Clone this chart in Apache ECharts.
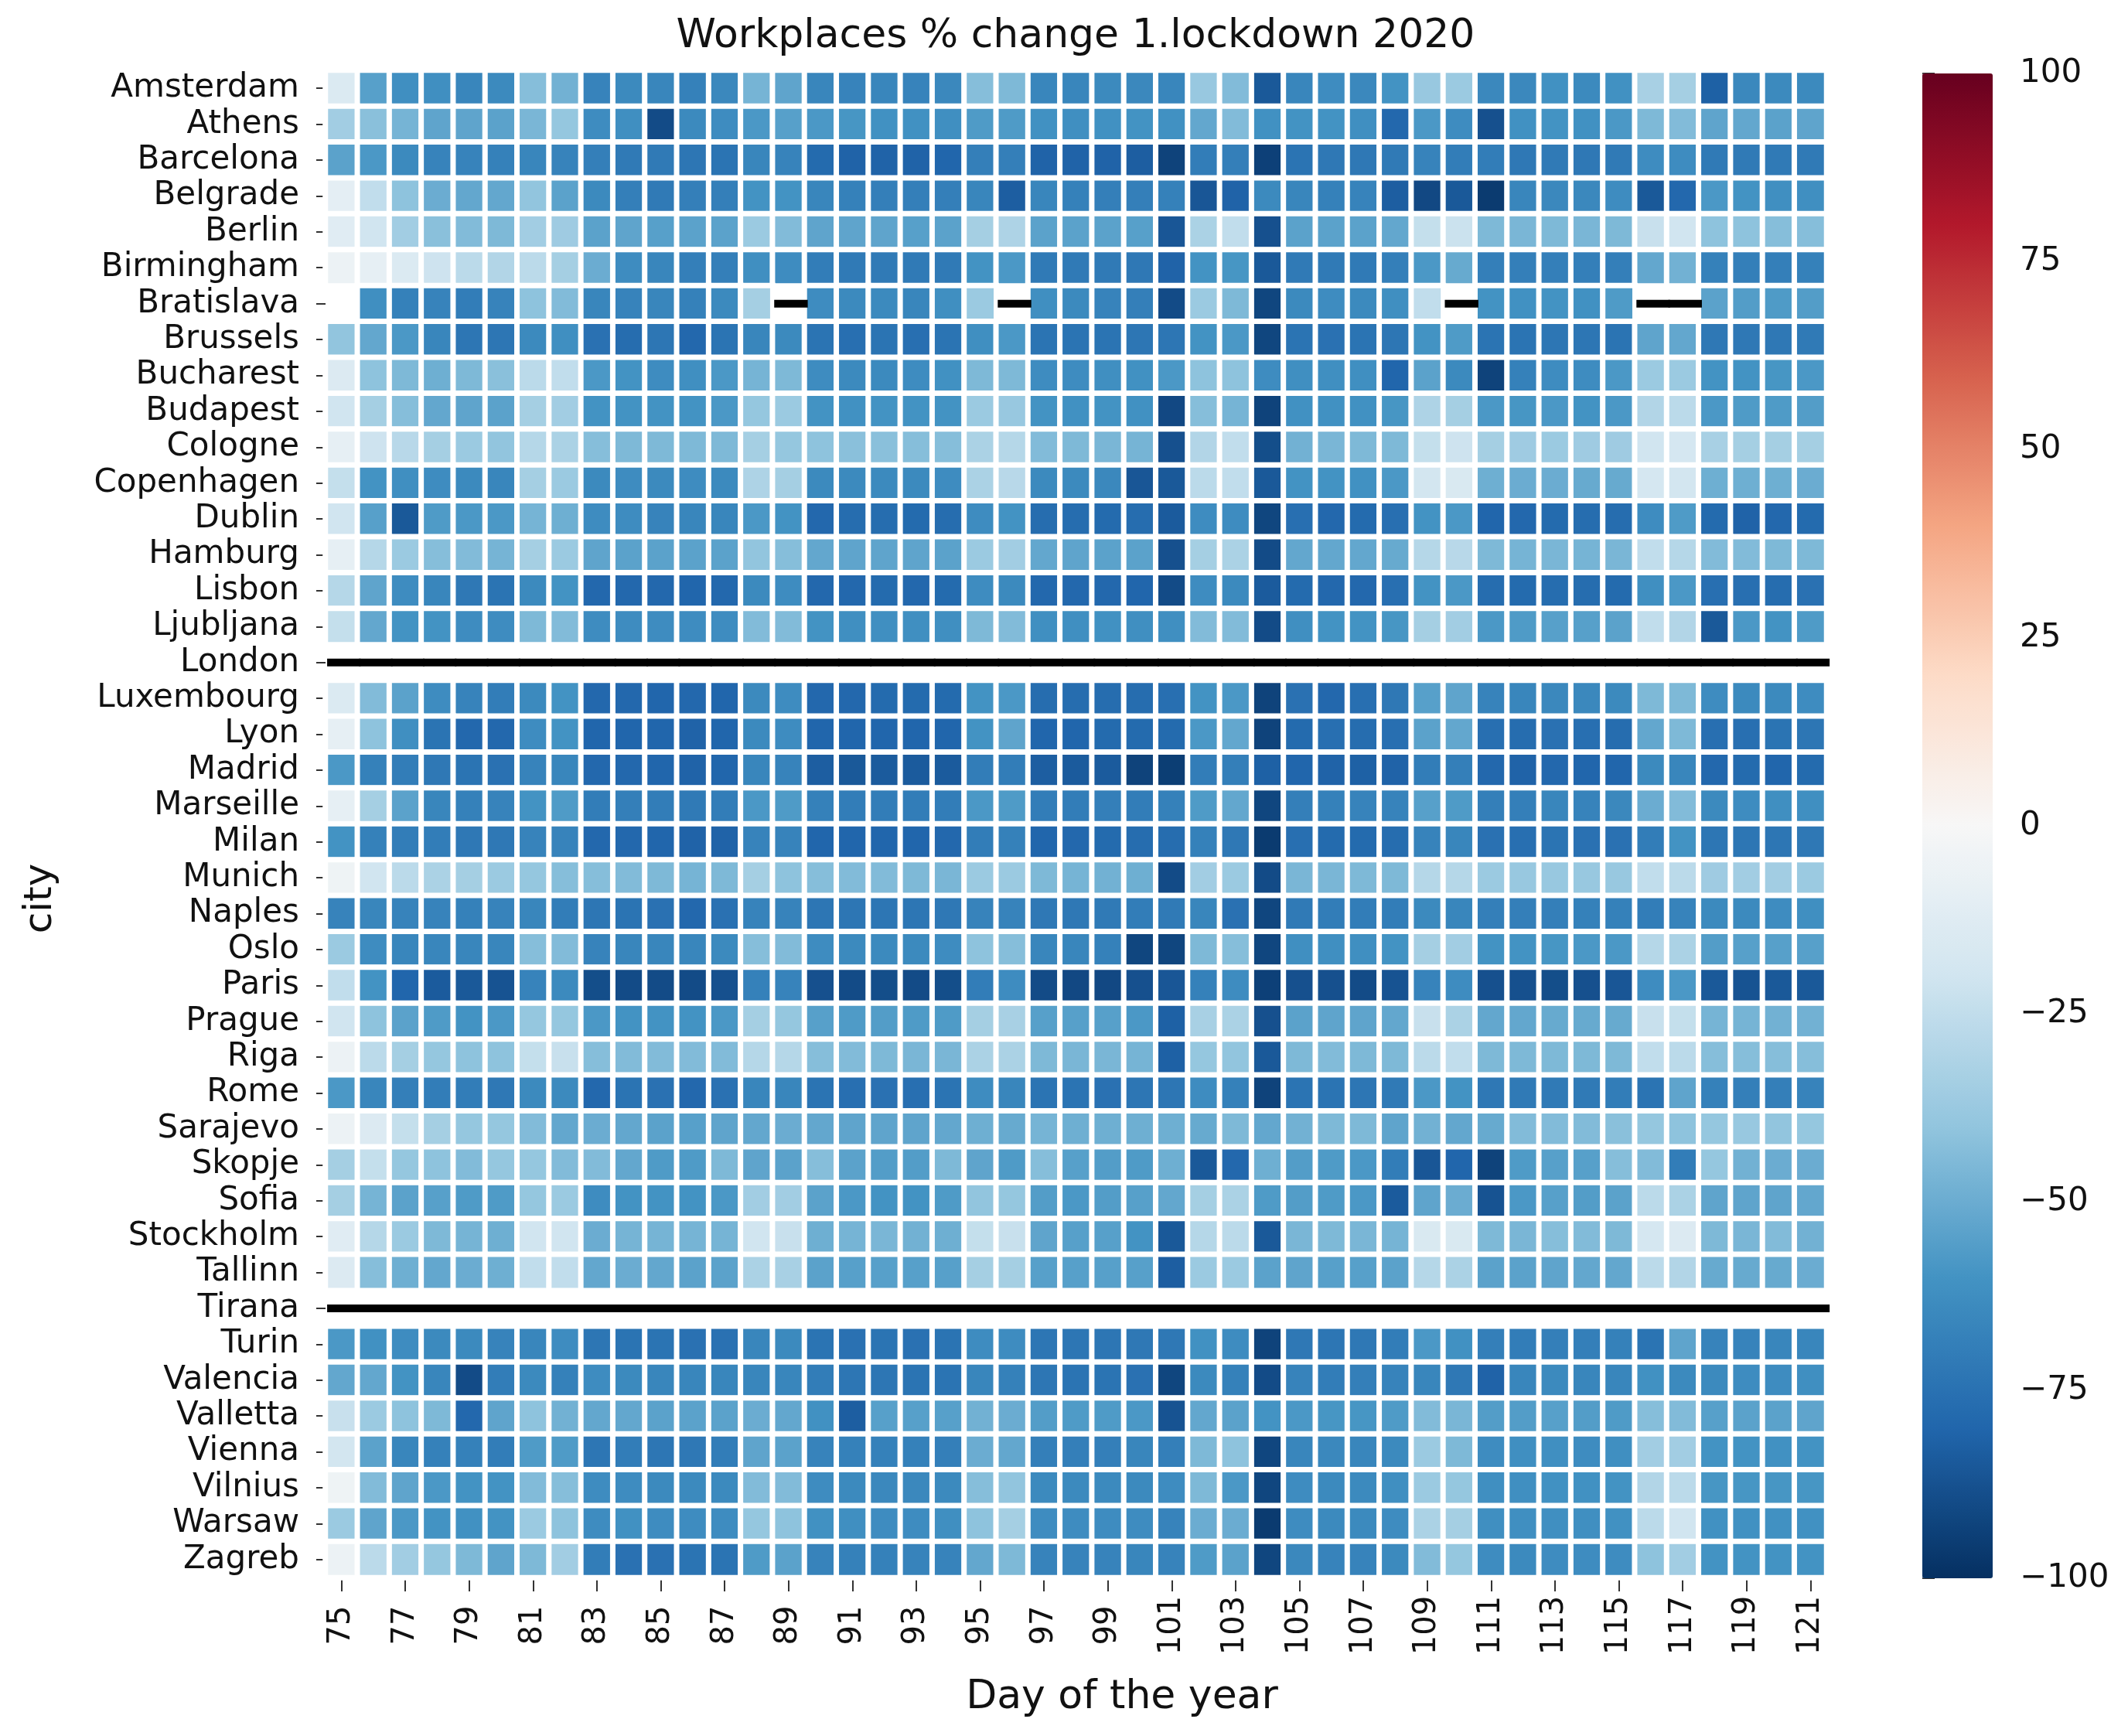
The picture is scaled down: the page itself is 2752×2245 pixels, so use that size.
<!DOCTYPE html>
<html>
<head>
<meta charset="utf-8">
<title>Workplaces % change 1.lockdown 2020</title>
<script src="https://cdn.jsdelivr.net/npm/echarts@6/dist/echarts.min.js"></script>
<style>
  html, body { margin: 0; padding: 0; background: #fff; }
  #chart { width: 2752px; height: 2245px; }
</style>
</head>
<body>
<div id="chart"></div>
<script>
// day of the year (x categories)
const days = [75, 76, 77, 78, 79, 80, 81, 82, 83, 84, 85, 86, 87, 88, 89, 90, 91, 92, 93, 94, 95, 96, 97, 98,
  99, 100, 101, 102, 103, 104, 105, 106, 107, 108, 109, 110, 111, 112, 113, 114, 115, 116, 117, 118, 119, 120, 121];

const cities = ['Amsterdam', 'Athens', 'Barcelona', 'Belgrade', 'Berlin', 'Birmingham', 'Bratislava', 'Brussels',
  'Bucharest', 'Budapest', 'Cologne', 'Copenhagen', 'Dublin', 'Hamburg', 'Lisbon', 'Ljubljana', 'London',
  'Luxembourg', 'Lyon', 'Madrid', 'Marseille', 'Milan', 'Munich', 'Naples', 'Oslo', 'Paris', 'Prague', 'Riga',
  'Rome', 'Sarajevo', 'Skopje', 'Sofia', 'Stockholm', 'Tallinn', 'Tirana', 'Turin', 'Valencia', 'Valletta',
  'Vienna', 'Vilnius', 'Warsaw', 'Zagreb'];

// workplaces % change per city, days 75..121 (null = no data)
const amsterdam = [-15, -55, -62, -62, -66, -64, -43, -48, -67, -64, -66, -68, -65, -47, -53,
  -66, -67, -66, -67, -65, -43, -45, -66, -66, -64, -65, -66, -38, -44, -85, -66,
  -63, -65, -60, -38, -37, -65, -65, -61, -64, -61, -33, -34, -82, -65, -64, -64];
const athens = [-35, -42, -47, -53, -53, -54, -46, -39, -63, -62, -90, -64, -63, -58, -55,
  -58, -59, -61, -61, -62, -57, -57, -61, -62, -61, -60, -61, -52, -44, -61, -60,
  -60, -62, -79, -58, -63, -88, -61, -60, -61, -58, -45, -44, -53, -52, -54, -53];
const barcelona = [-54, -58, -64, -67, -67, -68, -66, -67, -69, -71, -71, -73, -74, -66, -67,
  -78, -81, -81, -81, -80, -69, -69, -81, -81, -81, -83, -93, -70, -69, -94, -74,
  -72, -72, -71, -67, -70, -70, -72, -71, -72, -71, -63, -63, -71, -71, -71, -71];
const belgrade = [-10, -25, -41, -50, -52, -52, -40, -54, -64, -69, -71, -69, -69, -60, -60,
  -66, -68, -69, -69, -69, -66, -83, -66, -68, -69, -69, -68, -86, -81, -64, -66,
  -68, -67, -83, -91, -85, -96, -66, -65, -65, -63, -85, -79, -58, -60, -62, -62];
const berlin = [-12, -20, -35, -42, -44, -45, -35, -36, -54, -53, -55, -54, -54, -37, -44,
  -53, -53, -53, -55, -54, -34, -31, -54, -54, -54, -55, -86, -32, -25, -88, -54,
  -54, -54, -52, -24, -22, -45, -46, -45, -46, -45, -23, -20, -41, -41, -43, -43];
const birmingham = [-6, -9, -15, -21, -27, -30, -27, -34, -50, -63, -66, -69, -69, -62, -63,
  -70, -71, -71, -71, -71, -60, -58, -71, -71, -71, -72, -81, -60, -59, -85, -71,
  -71, -71, -69, -58, -51, -69, -69, -69, -69, -69, -52, -48, -68, -69, -69, -68];
const bratislava = [null, -62, -68, -67, -70, -67, -41, -44, -66, -67, -66, -68, -64, -34, null,
  -63, -64, -64, -66, -62, -37, null, -62, -64, -67, -69, -90, -37, -45, -92, -64,
  -63, -64, -62, -25, null, -60, -61, -60, -61, -57, null, null, -54, -56, -57, -56];
const brussels = [-40, -52, -58, -66, -73, -73, -64, -62, -75, -77, -73, -79, -74, -66, -64,
  -74, -76, -74, -76, -74, -62, -58, -74, -74, -74, -73, -73, -60, -58, -92, -74,
  -75, -74, -73, -60, -57, -74, -74, -73, -73, -74, -53, -52, -72, -72, -72, -71];
const bucharest = [-14, -41, -45, -49, -45, -42, -27, -25, -58, -60, -63, -62, -58, -47, -45,
  -63, -64, -64, -63, -61, -45, -45, -63, -63, -62, -61, -58, -41, -41, -63, -62,
  -62, -62, -80, -54, -64, -93, -68, -63, -63, -58, -37, -37, -60, -60, -59, -58];
const budapest = [-20, -34, -43, -52, -53, -54, -34, -35, -60, -60, -60, -60, -58, -39, -37,
  -60, -61, -60, -60, -60, -37, -38, -60, -61, -60, -61, -91, -43, -47, -93, -61,
  -61, -61, -59, -31, -34, -58, -59, -58, -60, -58, -30, -27, -58, -57, -57, -56];
const cologne = [-9, -21, -28, -34, -37, -40, -29, -32, -43, -45, -45, -45, -45, -34, -39,
  -41, -42, -42, -43, -43, -32, -29, -44, -45, -46, -47, -88, -30, -25, -89, -48,
  -46, -45, -45, -24, -21, -34, -36, -37, -36, -36, -20, -18, -33, -34, -34, -34];
const copenhagen = [-24, -60, -62, -63, -64, -66, -34, -37, -64, -63, -64, -63, -64, -31, -34,
  -64, -64, -64, -64, -63, -32, -28, -64, -64, -65, -86, -85, -27, -25, -85, -60,
  -60, -61, -58, -19, -16, -49, -50, -50, -51, -51, -18, -19, -49, -49, -49, -50];
const dublin = [-20, -55, -85, -57, -58, -58, -47, -49, -63, -63, -67, -66, -66, -58, -60,
  -79, -77, -77, -78, -77, -63, -60, -77, -77, -78, -77, -84, -63, -63, -92, -76,
  -79, -78, -76, -60, -58, -80, -79, -78, -77, -77, -63, -57, -78, -81, -79, -78];
const hamburg = [-9, -29, -37, -43, -44, -47, -34, -37, -53, -54, -54, -54, -54, -40, -43,
  -52, -53, -53, -53, -54, -37, -35, -52, -53, -54, -54, -88, -34, -32, -90, -52,
  -52, -52, -51, -29, -28, -45, -47, -46, -47, -46, -25, -29, -44, -44, -45, -45];
const lisbon = [-29, -53, -63, -66, -72, -74, -64, -60, -79, -79, -79, -80, -79, -64, -63,
  -79, -79, -78, -79, -78, -63, -64, -79, -79, -79, -80, -90, -63, -64, -84, -78,
  -79, -79, -76, -60, -58, -77, -78, -77, -77, -78, -62, -58, -76, -76, -77, -75];
const ljubljana = [-24, -52, -60, -60, -63, -63, -45, -44, -63, -63, -63, -63, -63, -44, -44,
  -60, -62, -62, -62, -62, -45, -44, -62, -62, -61, -62, -62, -44, -44, -90, -62,
  -60, -60, -59, -34, -35, -58, -57, -55, -55, -54, -25, -30, -85, -58, -60, -57];
const london = [null, null, null, null, null, null, null, null, null, null, null, null, null, null, null,
  null, null, null, null, null, null, null, null, null, null, null, null, null, null, null, null,
  null, null, null, null, null, null, null, null, null, null, null, null, null, null, null, null];
const luxembourg = [-15, -44, -54, -63, -67, -70, -64, -60, -79, -79, -80, -79, -80, -64, -63,
  -79, -79, -78, -78, -78, -60, -58, -77, -77, -77, -77, -76, -60, -58, -93, -75,
  -79, -76, -72, -55, -53, -67, -66, -65, -65, -64, -45, -45, -63, -64, -64, -63];
const lyon = [-9, -41, -62, -74, -79, -79, -63, -60, -80, -80, -80, -81, -80, -64, -63,
  -80, -80, -80, -80, -80, -60, -53, -80, -80, -78, -78, -78, -58, -52, -93, -78,
  -76, -77, -76, -54, -52, -76, -77, -75, -76, -77, -52, -45, -76, -76, -74, -73];
const madrid = [-58, -68, -70, -72, -74, -75, -67, -66, -79, -79, -80, -81, -80, -66, -67,
  -83, -85, -84, -84, -84, -70, -70, -83, -84, -84, -93, -95, -70, -69, -82, -80,
  -81, -82, -81, -70, -69, -79, -81, -79, -80, -80, -64, -66, -79, -78, -80, -78];
const marseille = [-9, -34, -54, -66, -68, -67, -60, -57, -70, -69, -70, -71, -70, -58, -57,
  -68, -70, -70, -70, -70, -58, -57, -70, -70, -69, -70, -68, -57, -52, -92, -69,
  -68, -67, -67, -55, -57, -69, -69, -66, -67, -65, -50, -44, -64, -63, -62, -62];
const milan = [-60, -68, -70, -70, -72, -72, -67, -67, -79, -79, -80, -81, -81, -67, -67,
  -80, -80, -80, -80, -79, -70, -68, -80, -79, -78, -77, -77, -68, -72, -96, -76,
  -78, -78, -77, -67, -66, -75, -76, -74, -75, -75, -70, -60, -73, -73, -73, -72];
const munich = [-5, -20, -27, -32, -34, -37, -39, -43, -43, -44, -45, -47, -45, -34, -41,
  -43, -44, -44, -45, -46, -37, -37, -45, -47, -48, -49, -90, -35, -37, -90, -46,
  -46, -45, -45, -29, -29, -37, -38, -38, -38, -38, -25, -27, -36, -35, -35, -37];
const naples = [-67, -66, -67, -67, -68, -67, -66, -70, -73, -74, -75, -79, -75, -67, -67,
  -73, -73, -73, -73, -72, -67, -67, -72, -72, -71, -70, -71, -66, -75, -92, -71,
  -70, -70, -70, -64, -66, -69, -69, -69, -68, -68, -70, -67, -64, -64, -63, -62];
const oslo = [-37, -63, -66, -66, -66, -66, -43, -44, -67, -66, -66, -66, -64, -43, -44,
  -63, -64, -64, -64, -63, -41, -43, -66, -66, -68, -92, -92, -45, -43, -92, -62,
  -62, -62, -60, -34, -35, -60, -60, -59, -58, -58, -29, -32, -56, -55, -55, -55];
const paris = [-25, -60, -80, -84, -85, -87, -67, -64, -89, -90, -90, -90, -88, -68, -67,
  -88, -90, -89, -90, -89, -70, -63, -90, -91, -91, -88, -86, -68, -63, -94, -88,
  -88, -90, -87, -67, -63, -88, -88, -89, -88, -86, -63, -58, -85, -87, -85, -85];
const prague = [-20, -41, -54, -57, -60, -58, -39, -39, -58, -60, -60, -60, -58, -34, -39,
  -55, -57, -56, -57, -57, -34, -33, -55, -55, -55, -58, -82, -33, -32, -88, -54,
  -53, -53, -52, -23, -32, -52, -52, -51, -51, -51, -23, -24, -47, -47, -48, -48];
const riga = [-6, -27, -34, -39, -41, -41, -24, -23, -43, -44, -44, -44, -44, -29, -29,
  -43, -44, -45, -46, -46, -32, -32, -45, -46, -46, -47, -82, -39, -40, -85, -45,
  -44, -45, -45, -27, -25, -45, -45, -45, -45, -45, -25, -27, -43, -43, -43, -43];
const rome = [-58, -66, -69, -70, -70, -72, -64, -64, -79, -74, -75, -79, -75, -66, -66,
  -74, -76, -75, -76, -74, -63, -66, -74, -74, -75, -73, -73, -63, -68, -93, -74,
  -74, -73, -71, -58, -60, -72, -71, -71, -71, -70, -74, -53, -68, -69, -69, -67];
const sarajevo = [-6, -14, -24, -34, -39, -39, -44, -52, -50, -52, -54, -55, -53, -52, -50,
  -52, -53, -53, -53, -52, -49, -51, -47, -49, -49, -49, -49, -51, -45, -52, -48,
  -45, -45, -53, -48, -52, -51, -44, -44, -44, -42, -39, -41, -39, -38, -40, -39];
const skopje = [-34, -24, -39, -41, -44, -39, -39, -44, -44, -52, -57, -57, -45, -53, -54,
  -43, -54, -56, -56, -45, -53, -57, -43, -55, -56, -57, -49, -85, -79, -49, -56,
  -57, -58, -70, -86, -80, -93, -57, -55, -55, -43, -44, -70, -39, -48, -50, -50];
const sofia = [-34, -47, -54, -55, -57, -57, -39, -37, -63, -60, -60, -60, -58, -35, -35,
  -54, -58, -60, -60, -57, -40, -39, -56, -58, -56, -55, -52, -34, -32, -57, -56,
  -57, -58, -84, -53, -50, -87, -58, -55, -56, -54, -27, -32, -53, -53, -53, -52];
const stockholm = [-12, -29, -37, -45, -47, -49, -20, -20, -50, -47, -47, -47, -47, -20, -23,
  -49, -47, -46, -48, -49, -24, -23, -53, -55, -55, -60, -85, -29, -27, -85, -46,
  -45, -46, -47, -16, -16, -45, -46, -43, -44, -45, -18, -14, -45, -46, -44, -48];
const tallinn = [-14, -43, -49, -52, -50, -49, -25, -25, -52, -50, -52, -54, -54, -32, -33,
  -54, -55, -55, -55, -55, -34, -34, -55, -55, -55, -55, -83, -37, -37, -54, -53,
  -55, -55, -54, -29, -32, -54, -54, -53, -52, -52, -27, -30, -51, -51, -51, -50];
const tirana = [null, null, null, null, null, null, null, null, null, null, null, null, null, null, null,
  null, null, null, null, null, null, null, null, null, null, null, null, null, null, null, null,
  null, null, null, null, null, null, null, null, null, null, null, null, null, null, null, null];
const turin = [-58, -61, -63, -64, -64, -67, -66, -63, -73, -74, -74, -75, -75, -66, -64,
  -74, -75, -74, -75, -74, -63, -63, -73, -73, -73, -72, -72, -61, -63, -93, -72,
  -73, -72, -70, -58, -61, -69, -70, -69, -69, -68, -74, -53, -67, -67, -66, -66];
const valencia = [-52, -52, -60, -66, -90, -70, -64, -68, -63, -64, -66, -66, -66, -66, -66,
  -70, -73, -73, -74, -74, -66, -68, -73, -74, -74, -75, -92, -64, -68, -90, -67,
  -70, -69, -67, -66, -72, -81, -66, -64, -66, -66, -61, -64, -64, -63, -63, -62];
const valletta = [-23, -37, -41, -45, -79, -53, -41, -48, -52, -52, -54, -54, -54, -50, -52,
  -61, -83, -55, -55, -55, -48, -50, -56, -57, -57, -58, -87, -52, -54, -60, -58,
  -59, -59, -57, -44, -46, -56, -56, -55, -56, -57, -43, -44, -55, -54, -54, -53];
const vienna = [-19, -54, -66, -68, -68, -70, -57, -57, -73, -70, -73, -72, -70, -53, -54,
  -67, -68, -68, -68, -69, -50, -52, -69, -69, -69, -66, -69, -45, -41, -92, -66,
  -65, -66, -64, -37, -45, -63, -62, -62, -63, -62, -35, -35, -60, -60, -61, -60];
const vilnius = [-5, -44, -53, -58, -60, -60, -44, -43, -63, -63, -64, -64, -64, -44, -44,
  -63, -64, -65, -65, -64, -43, -40, -64, -64, -64, -64, -63, -45, -58, -92, -63,
  -64, -64, -62, -37, -39, -62, -62, -61, -61, -60, -30, -27, -59, -59, -59, -59];
const warsaw = [-37, -53, -58, -60, -61, -60, -37, -41, -63, -61, -63, -63, -63, -39, -41,
  -61, -62, -63, -63, -62, -41, -34, -63, -63, -63, -63, -67, -50, -50, -96, -63,
  -64, -64, -63, -32, -34, -62, -62, -62, -62, -61, -27, -20, -61, -61, -61, -61];
const zagreb = [-6, -27, -35, -39, -45, -53, -45, -35, -70, -75, -75, -74, -74, -57, -54,
  -67, -68, -68, -67, -67, -52, -45, -67, -67, -67, -66, -67, -57, -54, -92, -65,
  -67, -67, -64, -44, -39, -63, -64, -63, -63, -63, -41, -35, -60, -60, -60, -60];

const rows = [amsterdam, athens, barcelona, belgrade, berlin, birmingham, bratislava, brussels,
  bucharest, budapest, cologne, copenhagen, dublin, hamburg, lisbon, ljubljana, london,
  luxembourg, lyon, madrid, marseille, milan, munich, naples, oslo, paris, prague, riga,
  rome, sarajevo, skopje, sofia, stockholm, tallinn, tirana, turin, valencia, valletta,
  vienna, vilnius, warsaw, zagreb];

// missing cells drawn blank, without the black bar
const unmarkedGaps = [[75, 'Bratislava']];

// RdBu_r, -100 .. 100
const rdbuR = ['#053061', '#2166ac', '#4393c3', '#92c5de', '#d1e5f0', '#f7f7f7',
  '#fddbc7', '#f4a582', '#d6604d', '#b2182b', '#67001f'];

const cells = [];
const gaps = [];
rows.forEach((row, ci) => {
  row.forEach((v, di) => {
    if (v === null) {
      const blank = unmarkedGaps.some(g => g[0] === days[di] && g[1] === cities[ci]);
      if (!blank) gaps.push([di, ci]);
    } else {
      cells.push([di, ci, v]);
    }
  });
});

const font = 'DejaVu Sans';
const ink = '#111';
const minus = v => (v < 0 ? '\u2212' + Math.abs(v) : String(v));

const chart = echarts.init(document.getElementById('chart'));
chart.setOption({
  animation: false,
  backgroundColor: '#fff',
  textStyle: { fontFamily: font },
  grid: [
    { left: 421, top: 91, width: 1941, height: 1949 },
    { left: 2486, top: 95, width: 91, height: 1946 }
  ],
  xAxis: [
    {
      type: 'category',
      gridIndex: 0,
      data: days.map(String),
      axisLine: { show: false },
      splitLine: { show: false },
      axisTick: { show: true, alignWithLabel: true, interval: 1, length: 18, lineStyle: { color: '#333', width: 2 } },
      axisLabel: { interval: 1, rotate: 90, align: 'center', margin: 62, fontSize: 40, color: ink, fontFamily: font }
    },
    { type: 'value', gridIndex: 1, min: 0, max: 1, show: false }
  ],
  yAxis: [
    {
      type: 'category',
      gridIndex: 0,
      data: cities,
      inverse: true,
      axisLine: { show: false },
      splitLine: { show: false },
      axisTick: { show: true, alignWithLabel: true, interval: 0, length: 12, lineStyle: { color: '#333', width: 2 } },
      axisLabel: { interval: 0, margin: 34, fontSize: 42, color: ink, fontFamily: font }
    },
    {
      type: 'value',
      gridIndex: 1,
      position: 'right',
      min: -100,
      max: 100,
      interval: 25,
      axisLine: { show: false },
      splitLine: { show: false },
      axisTick: { show: true, length: 16, lineStyle: { color: '#333', width: 2 } },
      axisLabel: { margin: 35, fontSize: 42, color: ink, fontFamily: font, formatter: minus }
    }
  ],
  visualMap: {
    type: 'continuous',
    seriesIndex: 0,
    min: -100,
    max: 100,
    calculable: false,
    orient: 'vertical',
    left: 2486,
    top: 95,
    padding: 0,
    itemWidth: 91,
    itemHeight: 1946,
    inRange: { color: rdbuR }
  },
  graphic: [
    {
      type: 'text', x: 1391, y: 47,
      style: { text: 'Workplaces % change 1.lockdown 2020', font: '52px "DejaVu Sans"', fill: ink, align: 'center', verticalAlign: 'middle' }
    },
    {
      type: 'text', x: 1451, y: 2195,
      style: { text: 'Day of the year', font: '52px "DejaVu Sans"', fill: ink, align: 'center', verticalAlign: 'middle' }
    },
    {
      type: 'text', x: 53, y: 1162, rotation: Math.PI / 2,
      style: { text: 'city', font: '50px "DejaVu Sans"', fill: ink, align: 'center', verticalAlign: 'middle' }
    }
  ],
  series: [
    {
      type: 'heatmap',
      xAxisIndex: 0,
      yAxisIndex: 0,
      data: cells,
      progressive: 0,
      itemStyle: { borderColor: '#fff', borderWidth: 7 },
      emphasis: { disabled: true }
    },
    {
      // no-data marks
      type: 'custom',
      xAxisIndex: 0,
      yAxisIndex: 0,
      data: gaps,
      encode: { x: 0, y: 1 },
      silent: true,
      z: 3,
      renderItem: (params, api) => {
        const c = api.coord([api.value(0), api.value(1)]);
        const s = api.size([1, 1]);
        return {
          type: 'rect',
          shape: { x: c[0] - s[0] * 0.45, y: c[1] - 5, width: s[0] * 1.05, height: 10 },
          style: { fill: '#000' }
        };
      }
    }
  ]
});
</script>
</body>
</html>
